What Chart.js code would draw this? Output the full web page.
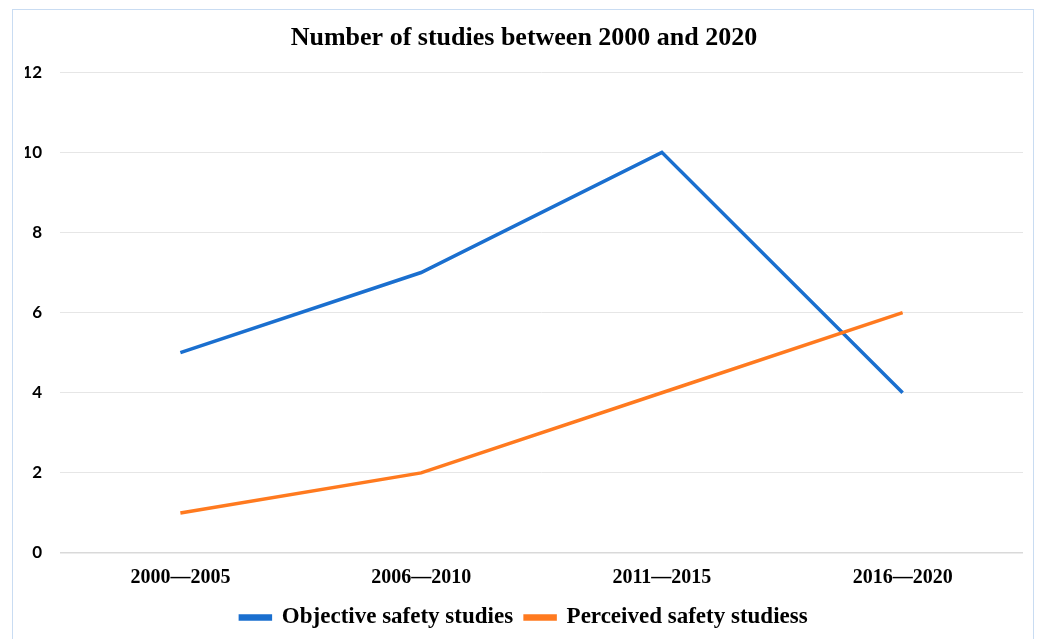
<!DOCTYPE html>
<html>
<head>
<meta charset="utf-8">
<script src="https://cdn.jsdelivr.net/npm/chart.js@4/dist/chart.umd.min.js"></script>
<style>
  html, body { margin: 0; padding: 0; background: #ffffff; }
  #wrap { position: absolute; left: 0; top: 0; width: 1045px; height: 639px; }
  #frame { position: absolute; left: 12px; top: 9px; width: 1022px; height: 700px; border: 1px solid #c9dcf2; box-sizing: border-box; pointer-events: none; }
</style>
</head>
<body>
<div id="wrap"><canvas id="c" width="1045" height="639"></canvas></div>
<div id="frame"></div>
<script>
const categories = ['2000\u20142005', '2006\u20142010', '2011\u20142015', '2016\u20142020'];
const objectiveStudies = [5, 7, 10, 4];
const perceivedStudies = [1, 2, 4, 6];
const yTicks = [0, 2, 4, 6, 8, 10, 12];

const serif = '"Liberation Serif", "Times New Roman", serif';

new Chart(document.getElementById('c'), {
  type: 'line',
  data: {
    labels: categories,
    datasets: [
      {
        label: 'Objective safety studies',
        data: objectiveStudies,
        borderColor: '#1a6fcf',
        backgroundColor: '#1a6fcf',
        borderWidth: 3.5,
        pointRadius: 0,
        tension: 0,
        order: 2
      },
      {
        label: 'Perceived safety studiess',
        data: perceivedStudies,
        borderColor: '#ff7a1f',
        backgroundColor: '#ff7a1f',
        borderWidth: 3.5,
        pointRadius: 0,
        tension: 0,
        order: 1
      }
    ]
  },
  options: {
    responsive: false,
    animation: false,
    devicePixelRatio: 1,
    layout: { padding: { left: 25, right: 22, top: 14, bottom: 0 } },
    plugins: {
      title: {
        display: true,
        text: 'Number of studies between 2000 and 2020',
        color: '#000000',
        font: { family: serif, size: 26, weight: 'bold' },
        padding: { top: 9, bottom: 18 }
      },
      legend: {
        position: 'bottom',
        labels: {
          color: '#000000',
          font: { family: serif, size: 23, weight: 'bold' },
          boxWidth: 30,
          boxHeight: 3,
          padding: 12,
          sort: (a, b) => a.datasetIndex - b.datasetIndex
        }
      },
      tooltip: { enabled: false }
    },
    scales: {
      x: {
        offset: true,
        afterFit: (axis) => { axis.height = axis.height - 9; },
        grid: { display: false, drawTicks: false },
        border: { display: false },
        ticks: {
          color: '#000000',
          font: { family: serif, size: 20, weight: 'bold' },
          padding: 13,
          maxRotation: 0
        }
      },
      y: {
        min: 0,
        max: 12,
        afterBuildTicks: (axis) => { axis.ticks = yTicks.map(v => ({ value: v })); },
        afterFit: (axis) => { axis.width = 35; },
        grid: { color: (ctx) => ctx.tick && ctx.tick.value === 0 ? '#d9d9d9' : '#e6e6e6', lineWidth: (ctx) => ctx.tick && ctx.tick.value === 0 ? 1.5 : 1, drawTicks: false },
        border: { display: false },
        ticks: {
          color: '#000000',
          font: { family: 'Lato, "Open Sans", sans-serif', size: 17, weight: 'bold' },
          padding: 18
        }
      }
    }
  }
});
</script>
</body>
</html>
